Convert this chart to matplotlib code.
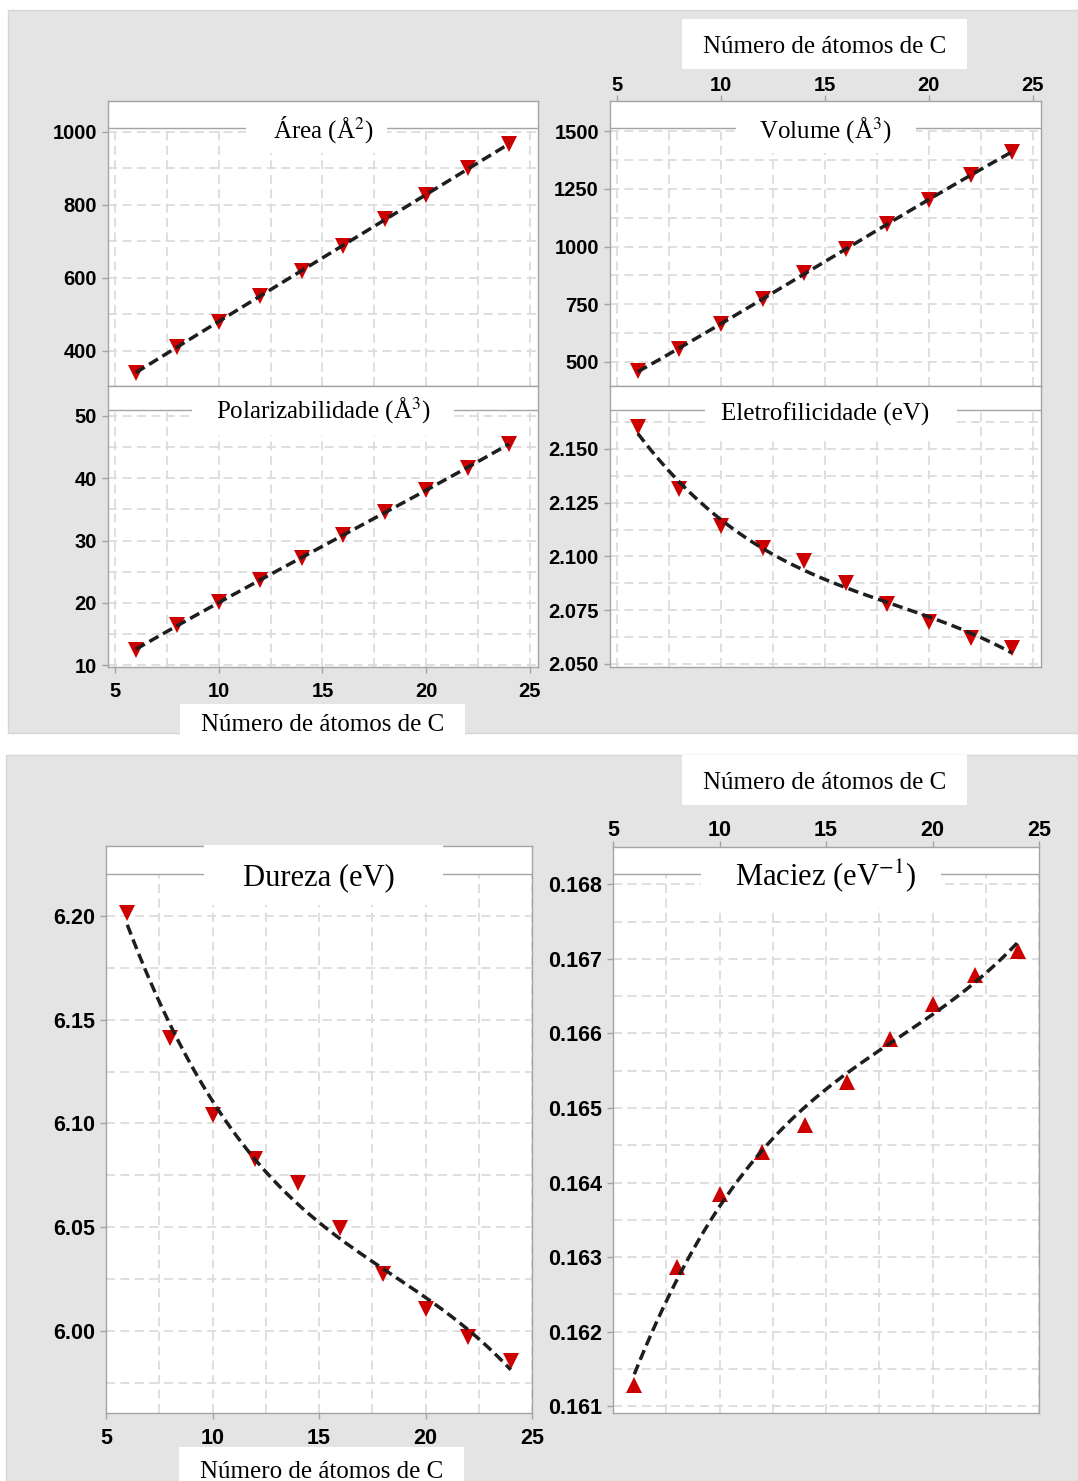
import numpy as np
import matplotlib.pyplot as plt
from matplotlib.patches import Rectangle
from matplotlib.ticker import FormatStrFormatter

W, H = 1078, 1481

carbons = [6, 8, 10, 12, 14, 16, 18, 20, 22, 24]
area = [340, 412, 480, 551, 620, 688, 760, 826, 900, 966]
volume = [460, 557, 665, 773, 884, 989, 1097, 1202, 1308, 1411]
polarizabilidade = [12.5, 16.4, 20.1, 23.6, 27.2, 30.9, 34.5, 38.1, 41.7, 45.5]
eletrofilicidade = [2.160, 2.1313, 2.114, 2.104, 2.098, 2.0878, 2.0778, 2.0693, 2.0623, 2.0573]
dureza = [6.2015, 6.1413, 6.1041, 6.0827, 6.0711, 6.0494, 6.0277, 6.0104, 5.9969, 5.9857]
maciez = [0.16128, 0.16287, 0.16385, 0.16441, 0.16477, 0.16535, 0.16592, 0.16640, 0.16678, 0.16711]

x_ticks = [5, 10, 15, 20, 25]
area_ticks = [400, 600, 800, 1000]
volume_ticks = [500, 750, 1000, 1250, 1500]
polar_ticks = [10, 20, 30, 40, 50]
eletro_ticks = [2.050, 2.075, 2.100, 2.125, 2.150]
dureza_ticks = [6.00, 6.05, 6.10, 6.15, 6.20]
maciez_ticks = [0.161, 0.162, 0.163, 0.164, 0.165, 0.166, 0.167, 0.168]

x_label = 'Número de átomos de C'

plt.rcParams['font.family'] = ['Liberation Sans', 'DejaVu Sans']
plt.rcParams['mathtext.fontset'] = 'stix'

RED = '#cc0000'
GRID = '#dcdcdc'
SPINE = '#a4a4a4'

fig = plt.figure(figsize=(W / 100, H / 100), dpi=100)

# gray background panels
for (x0, y0, x1, y1) in [(8, 10, 1078, 733), (6, 755, 1078, 1481)]:
    fig.add_artist(Rectangle((x0 / W, 1 - y1 / H), (x1 - x0) / W, (y1 - y0) / H,
                             transform=fig.transFigure, fc='#e4e4e4', ec='#d6d6d6',
                             lw=1, zorder=-2))

# axis label boxes
for (x0, y0, x1, y1) in [(682, 19, 967, 69), (180, 704, 465, 740),
                         (682, 755, 967, 805), (179, 1447, 464, 1485)]:
    fig.add_artist(Rectangle((x0 / W, 1 - y1 / H), (x1 - x0) / W, (y1 - y0) / H,
                             transform=fig.transFigure, fc='white', ec='none', zorder=-1))
    fig.text((x0 + x1) / 2 / W, 1 - ((y0 + y1) / 2 + 9) / H if y1 < 1480 else 1 - 1478 / H,
             x_label, ha='center', va='baseline', fontsize=18,
             family='Liberation Serif')


def panel(rect, values, marker, xlim, ylim, yticks, fmt, title, tsize,
          line_y, box, lsize, xside, base_off=10, cover_top=False):
    x0, y0, x1, y1 = rect
    w, h = x1 - x0, y1 - y0
    ax = fig.add_axes([x0 / W, 1 - y1 / H, w / W, h / H])
    ax.set_xlim(xlim)
    ax.set_xticks(x_ticks)
    ax.set_xticks([7.5, 12.5, 17.5, 22.5], minor=True)
    step = yticks[1] - yticks[0]
    ax.set_yticks(yticks)
    ax.set_yticks([t + step / 2 for t in [yticks[0] - step] + list(yticks)], minor=True)
    ax.set_ylim(ylim)
    ax.yaxis.set_major_formatter(FormatStrFormatter(fmt))
    ax.grid(which='both', color=GRID, ls=(0, (5, 3)), lw=1.3)
    ax.set_axisbelow(True)
    for s in ax.spines.values():
        s.set_color(SPINE)
        s.set_linewidth(1)
    ax.tick_params(which='major', direction='out', length=4, width=1,
                   color=SPINE, labelsize=lsize, pad=4)
    ax.tick_params(which='minor', length=0)
    if xside == 'top':
        ax.tick_params(axis='x', top=True, bottom=False, labeltop=True,
                       labelbottom=False, pad=0)
    elif xside == 'bottom':
        ax.tick_params(axis='x', pad=7)
    else:
        ax.tick_params(axis='x', bottom=False, labelbottom=False)
    plt.setp(ax.get_xticklabels() + ax.get_yticklabels(), fontweight='bold')

    ax.plot(carbons, values, ls='none', marker=marker, ms=12, color=RED,
            mew=0, zorder=3)
    coef = np.polyfit(carbons, values, 3)
    xs = np.linspace(carbons[0], carbons[-1], 200)
    ax.plot(xs, np.polyval(coef, xs), color='#1e1e1e', lw=2.5,
            ls=(0, (3, 1.5)), zorder=4)

    # title band
    lf = 1 - (line_y - y0) / h
    ax.add_patch(Rectangle((0, lf), 1, 1 - lf, transform=ax.transAxes,
                           fc='white', ec='none', zorder=1))
    ax.plot([0, 1], [lf, lf], transform=ax.transAxes, color=SPINE, lw=1, zorder=1.2)
    bx0, bx1, bb = box
    bf = 1 - (bb - y0) / h
    top = 1.002 if cover_top else 1
    ax.add_patch(Rectangle(((bx0 - x0) / w, bf), (bx1 - bx0) / w, top - bf,
                           transform=ax.transAxes, fc='white', ec='none',
                           zorder=3 if cover_top else 1.5, clip_on=not cover_top))
    ax.text(0.5, 1 - (line_y + base_off - y0) / h, title, transform=ax.transAxes,
            ha='center', va='baseline', fontsize=tsize, family='Liberation Serif',
            zorder=5)
    return ax


top_xlim = (4.66, 25.39)
panel((108, 101, 538, 386), area, 'v', top_xlim, (304, 1084), area_ticks, '%d',
      'Área (Å$^{2}$)', 18, 128, (246, 387, 153), 14.5, None)
panel((108, 386, 538, 667), polarizabilidade, 'v', top_xlim, (9.7, 54.8), polar_ticks, '%d',
      'Polarizabilidade (Å$^{3}$)', 18, 410, (192, 454, 435), 14.5, 'bottom', base_off=8)
panel((610, 101, 1041, 386), volume, 'v', top_xlim, (396, 1630), volume_ticks, '%d',
      'Volume (Å$^{3}$)', 18, 128, (736, 916, 153), 14.5, 'top')
panel((610, 386, 1041, 667), eletrofilicidade, 'v', top_xlim, (2.0486, 2.1793), eletro_ticks, '%.3f',
      'Eletrofilicidade (eV)', 18, 410, (705, 957, 438), 14.5, None, base_off=11)
panel((106, 846, 532, 1413), dureza, 'v', (5, 25), (5.9605, 6.2337), dureza_ticks, '%.2f',
      'Dureza (eV)', 22, 874, (204, 443, 905), 15.5, 'bottom', base_off=11, cover_top=True)
panel((613, 847, 1039, 1413), maciez, '^', (5, 25), (0.16091, 0.16850), maciez_ticks, '%.3f',
      'Maciez (eV$^{-1}$)', 22, 874, (701, 941, 907), 15.5, 'top', base_off=11)

fig.savefig('out.png', dpi=100)
